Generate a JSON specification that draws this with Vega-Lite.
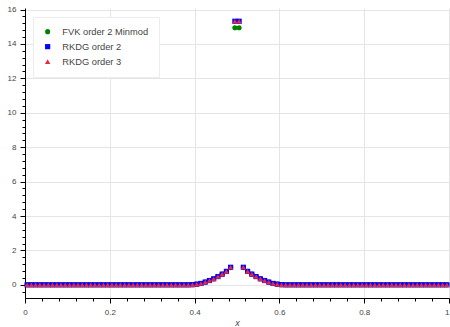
{
  "$schema": "https://vega.github.io/schema/vega-lite/v6.json",
  "width": 424,
  "height": 290,
  "autosize": "none",
  "padding": {"left": 25, "top": 8, "right": 1, "bottom": 29},
  "background": "white",
  "config": {
    "view": {"stroke": null},
    "font": "Liberation Sans"
  },
  "data": {
    "values": [
      {"s": "FVK order 2 Minmod", "x": 0.005, "y": 0}, {"s": "FVK order 2 Minmod", "x": 0.015, "y": 0}, {"s": "FVK order 2 Minmod", "x": 0.025, "y": 0}, {"s": "FVK order 2 Minmod", "x": 0.035, "y": 0}, {"s": "FVK order 2 Minmod", "x": 0.045, "y": 0}, {"s": "FVK order 2 Minmod", "x": 0.055, "y": 0}, {"s": "FVK order 2 Minmod", "x": 0.065, "y": 0}, {"s": "FVK order 2 Minmod", "x": 0.075, "y": 0}, {"s": "FVK order 2 Minmod", "x": 0.085, "y": 0}, {"s": "FVK order 2 Minmod", "x": 0.095, "y": 0},
      {"s": "FVK order 2 Minmod", "x": 0.105, "y": 0}, {"s": "FVK order 2 Minmod", "x": 0.115, "y": 0}, {"s": "FVK order 2 Minmod", "x": 0.125, "y": 0}, {"s": "FVK order 2 Minmod", "x": 0.135, "y": 0}, {"s": "FVK order 2 Minmod", "x": 0.145, "y": 0}, {"s": "FVK order 2 Minmod", "x": 0.155, "y": 0}, {"s": "FVK order 2 Minmod", "x": 0.165, "y": 0}, {"s": "FVK order 2 Minmod", "x": 0.175, "y": 0}, {"s": "FVK order 2 Minmod", "x": 0.185, "y": 0}, {"s": "FVK order 2 Minmod", "x": 0.195, "y": 0},
      {"s": "FVK order 2 Minmod", "x": 0.205, "y": 0}, {"s": "FVK order 2 Minmod", "x": 0.215, "y": 0}, {"s": "FVK order 2 Minmod", "x": 0.225, "y": 0}, {"s": "FVK order 2 Minmod", "x": 0.235, "y": 0}, {"s": "FVK order 2 Minmod", "x": 0.245, "y": 0}, {"s": "FVK order 2 Minmod", "x": 0.255, "y": 0}, {"s": "FVK order 2 Minmod", "x": 0.265, "y": 0}, {"s": "FVK order 2 Minmod", "x": 0.275, "y": 0}, {"s": "FVK order 2 Minmod", "x": 0.285, "y": 0}, {"s": "FVK order 2 Minmod", "x": 0.295, "y": 0},
      {"s": "FVK order 2 Minmod", "x": 0.305, "y": 0}, {"s": "FVK order 2 Minmod", "x": 0.315, "y": 0}, {"s": "FVK order 2 Minmod", "x": 0.325, "y": 0}, {"s": "FVK order 2 Minmod", "x": 0.335, "y": 0}, {"s": "FVK order 2 Minmod", "x": 0.345, "y": 0}, {"s": "FVK order 2 Minmod", "x": 0.355, "y": 0}, {"s": "FVK order 2 Minmod", "x": 0.365, "y": 0}, {"s": "FVK order 2 Minmod", "x": 0.375, "y": 0}, {"s": "FVK order 2 Minmod", "x": 0.385, "y": 0}, {"s": "FVK order 2 Minmod", "x": 0.395, "y": 0.01},
      {"s": "FVK order 2 Minmod", "x": 0.405, "y": 0.04}, {"s": "FVK order 2 Minmod", "x": 0.415, "y": 0.08}, {"s": "FVK order 2 Minmod", "x": 0.425, "y": 0.16}, {"s": "FVK order 2 Minmod", "x": 0.435, "y": 0.25}, {"s": "FVK order 2 Minmod", "x": 0.445, "y": 0.35}, {"s": "FVK order 2 Minmod", "x": 0.455, "y": 0.48}, {"s": "FVK order 2 Minmod", "x": 0.465, "y": 0.62}, {"s": "FVK order 2 Minmod", "x": 0.475, "y": 0.78}, {"s": "FVK order 2 Minmod", "x": 0.485, "y": 1.0}, {"s": "FVK order 2 Minmod", "x": 0.495, "y": 14.94},
      {"s": "FVK order 2 Minmod", "x": 0.505, "y": 14.94}, {"s": "FVK order 2 Minmod", "x": 0.515, "y": 1.0}, {"s": "FVK order 2 Minmod", "x": 0.525, "y": 0.78}, {"s": "FVK order 2 Minmod", "x": 0.535, "y": 0.62}, {"s": "FVK order 2 Minmod", "x": 0.545, "y": 0.48}, {"s": "FVK order 2 Minmod", "x": 0.555, "y": 0.35}, {"s": "FVK order 2 Minmod", "x": 0.565, "y": 0.25}, {"s": "FVK order 2 Minmod", "x": 0.575, "y": 0.16}, {"s": "FVK order 2 Minmod", "x": 0.585, "y": 0.08}, {"s": "FVK order 2 Minmod", "x": 0.595, "y": 0.04},
      {"s": "FVK order 2 Minmod", "x": 0.605, "y": 0.01}, {"s": "FVK order 2 Minmod", "x": 0.615, "y": 0}, {"s": "FVK order 2 Minmod", "x": 0.625, "y": 0}, {"s": "FVK order 2 Minmod", "x": 0.635, "y": 0}, {"s": "FVK order 2 Minmod", "x": 0.645, "y": 0}, {"s": "FVK order 2 Minmod", "x": 0.655, "y": 0}, {"s": "FVK order 2 Minmod", "x": 0.665, "y": 0}, {"s": "FVK order 2 Minmod", "x": 0.675, "y": 0}, {"s": "FVK order 2 Minmod", "x": 0.685, "y": 0}, {"s": "FVK order 2 Minmod", "x": 0.695, "y": 0},
      {"s": "FVK order 2 Minmod", "x": 0.705, "y": 0}, {"s": "FVK order 2 Minmod", "x": 0.715, "y": 0}, {"s": "FVK order 2 Minmod", "x": 0.725, "y": 0}, {"s": "FVK order 2 Minmod", "x": 0.735, "y": 0}, {"s": "FVK order 2 Minmod", "x": 0.745, "y": 0}, {"s": "FVK order 2 Minmod", "x": 0.755, "y": 0}, {"s": "FVK order 2 Minmod", "x": 0.765, "y": 0}, {"s": "FVK order 2 Minmod", "x": 0.775, "y": 0}, {"s": "FVK order 2 Minmod", "x": 0.785, "y": 0}, {"s": "FVK order 2 Minmod", "x": 0.795, "y": 0},
      {"s": "FVK order 2 Minmod", "x": 0.805, "y": 0}, {"s": "FVK order 2 Minmod", "x": 0.815, "y": 0}, {"s": "FVK order 2 Minmod", "x": 0.825, "y": 0}, {"s": "FVK order 2 Minmod", "x": 0.835, "y": 0}, {"s": "FVK order 2 Minmod", "x": 0.845, "y": 0}, {"s": "FVK order 2 Minmod", "x": 0.855, "y": 0}, {"s": "FVK order 2 Minmod", "x": 0.865, "y": 0}, {"s": "FVK order 2 Minmod", "x": 0.875, "y": 0}, {"s": "FVK order 2 Minmod", "x": 0.885, "y": 0}, {"s": "FVK order 2 Minmod", "x": 0.895, "y": 0},
      {"s": "FVK order 2 Minmod", "x": 0.905, "y": 0}, {"s": "FVK order 2 Minmod", "x": 0.915, "y": 0}, {"s": "FVK order 2 Minmod", "x": 0.925, "y": 0}, {"s": "FVK order 2 Minmod", "x": 0.935, "y": 0}, {"s": "FVK order 2 Minmod", "x": 0.945, "y": 0}, {"s": "FVK order 2 Minmod", "x": 0.955, "y": 0}, {"s": "FVK order 2 Minmod", "x": 0.965, "y": 0}, {"s": "FVK order 2 Minmod", "x": 0.975, "y": 0}, {"s": "FVK order 2 Minmod", "x": 0.985, "y": 0}, {"s": "FVK order 2 Minmod", "x": 0.995, "y": 0},

      {"s": "RKDG order 2", "x": 0.005, "y": 0}, {"s": "RKDG order 2", "x": 0.015, "y": 0}, {"s": "RKDG order 2", "x": 0.025, "y": 0}, {"s": "RKDG order 2", "x": 0.035, "y": 0}, {"s": "RKDG order 2", "x": 0.045, "y": 0}, {"s": "RKDG order 2", "x": 0.055, "y": 0}, {"s": "RKDG order 2", "x": 0.065, "y": 0}, {"s": "RKDG order 2", "x": 0.075, "y": 0}, {"s": "RKDG order 2", "x": 0.085, "y": 0}, {"s": "RKDG order 2", "x": 0.095, "y": 0},
      {"s": "RKDG order 2", "x": 0.105, "y": 0}, {"s": "RKDG order 2", "x": 0.115, "y": 0}, {"s": "RKDG order 2", "x": 0.125, "y": 0}, {"s": "RKDG order 2", "x": 0.135, "y": 0}, {"s": "RKDG order 2", "x": 0.145, "y": 0}, {"s": "RKDG order 2", "x": 0.155, "y": 0}, {"s": "RKDG order 2", "x": 0.165, "y": 0}, {"s": "RKDG order 2", "x": 0.175, "y": 0}, {"s": "RKDG order 2", "x": 0.185, "y": 0}, {"s": "RKDG order 2", "x": 0.195, "y": 0},
      {"s": "RKDG order 2", "x": 0.205, "y": 0}, {"s": "RKDG order 2", "x": 0.215, "y": 0}, {"s": "RKDG order 2", "x": 0.225, "y": 0}, {"s": "RKDG order 2", "x": 0.235, "y": 0}, {"s": "RKDG order 2", "x": 0.245, "y": 0}, {"s": "RKDG order 2", "x": 0.255, "y": 0}, {"s": "RKDG order 2", "x": 0.265, "y": 0}, {"s": "RKDG order 2", "x": 0.275, "y": 0}, {"s": "RKDG order 2", "x": 0.285, "y": 0}, {"s": "RKDG order 2", "x": 0.295, "y": 0},
      {"s": "RKDG order 2", "x": 0.305, "y": 0}, {"s": "RKDG order 2", "x": 0.315, "y": 0}, {"s": "RKDG order 2", "x": 0.325, "y": 0}, {"s": "RKDG order 2", "x": 0.335, "y": 0}, {"s": "RKDG order 2", "x": 0.345, "y": 0}, {"s": "RKDG order 2", "x": 0.355, "y": 0}, {"s": "RKDG order 2", "x": 0.365, "y": 0}, {"s": "RKDG order 2", "x": 0.375, "y": 0}, {"s": "RKDG order 2", "x": 0.385, "y": 0}, {"s": "RKDG order 2", "x": 0.395, "y": 0.01},
      {"s": "RKDG order 2", "x": 0.405, "y": 0.04}, {"s": "RKDG order 2", "x": 0.415, "y": 0.08}, {"s": "RKDG order 2", "x": 0.425, "y": 0.16}, {"s": "RKDG order 2", "x": 0.435, "y": 0.25}, {"s": "RKDG order 2", "x": 0.445, "y": 0.35}, {"s": "RKDG order 2", "x": 0.455, "y": 0.48}, {"s": "RKDG order 2", "x": 0.465, "y": 0.62}, {"s": "RKDG order 2", "x": 0.475, "y": 0.78}, {"s": "RKDG order 2", "x": 0.485, "y": 1.02}, {"s": "RKDG order 2", "x": 0.495, "y": 15.32},
      {"s": "RKDG order 2", "x": 0.505, "y": 15.32}, {"s": "RKDG order 2", "x": 0.515, "y": 1.02}, {"s": "RKDG order 2", "x": 0.525, "y": 0.78}, {"s": "RKDG order 2", "x": 0.535, "y": 0.62}, {"s": "RKDG order 2", "x": 0.545, "y": 0.48}, {"s": "RKDG order 2", "x": 0.555, "y": 0.35}, {"s": "RKDG order 2", "x": 0.565, "y": 0.25}, {"s": "RKDG order 2", "x": 0.575, "y": 0.16}, {"s": "RKDG order 2", "x": 0.585, "y": 0.08}, {"s": "RKDG order 2", "x": 0.595, "y": 0.04},
      {"s": "RKDG order 2", "x": 0.605, "y": 0.01}, {"s": "RKDG order 2", "x": 0.615, "y": 0}, {"s": "RKDG order 2", "x": 0.625, "y": 0}, {"s": "RKDG order 2", "x": 0.635, "y": 0}, {"s": "RKDG order 2", "x": 0.645, "y": 0}, {"s": "RKDG order 2", "x": 0.655, "y": 0}, {"s": "RKDG order 2", "x": 0.665, "y": 0}, {"s": "RKDG order 2", "x": 0.675, "y": 0}, {"s": "RKDG order 2", "x": 0.685, "y": 0}, {"s": "RKDG order 2", "x": 0.695, "y": 0},
      {"s": "RKDG order 2", "x": 0.705, "y": 0}, {"s": "RKDG order 2", "x": 0.715, "y": 0}, {"s": "RKDG order 2", "x": 0.725, "y": 0}, {"s": "RKDG order 2", "x": 0.735, "y": 0}, {"s": "RKDG order 2", "x": 0.745, "y": 0}, {"s": "RKDG order 2", "x": 0.755, "y": 0}, {"s": "RKDG order 2", "x": 0.765, "y": 0}, {"s": "RKDG order 2", "x": 0.775, "y": 0}, {"s": "RKDG order 2", "x": 0.785, "y": 0}, {"s": "RKDG order 2", "x": 0.795, "y": 0},
      {"s": "RKDG order 2", "x": 0.805, "y": 0}, {"s": "RKDG order 2", "x": 0.815, "y": 0}, {"s": "RKDG order 2", "x": 0.825, "y": 0}, {"s": "RKDG order 2", "x": 0.835, "y": 0}, {"s": "RKDG order 2", "x": 0.845, "y": 0}, {"s": "RKDG order 2", "x": 0.855, "y": 0}, {"s": "RKDG order 2", "x": 0.865, "y": 0}, {"s": "RKDG order 2", "x": 0.875, "y": 0}, {"s": "RKDG order 2", "x": 0.885, "y": 0}, {"s": "RKDG order 2", "x": 0.895, "y": 0},
      {"s": "RKDG order 2", "x": 0.905, "y": 0}, {"s": "RKDG order 2", "x": 0.915, "y": 0}, {"s": "RKDG order 2", "x": 0.925, "y": 0}, {"s": "RKDG order 2", "x": 0.935, "y": 0}, {"s": "RKDG order 2", "x": 0.945, "y": 0}, {"s": "RKDG order 2", "x": 0.955, "y": 0}, {"s": "RKDG order 2", "x": 0.965, "y": 0}, {"s": "RKDG order 2", "x": 0.975, "y": 0}, {"s": "RKDG order 2", "x": 0.985, "y": 0}, {"s": "RKDG order 2", "x": 0.995, "y": 0},

      {"s": "RKDG order 3", "x": 0.005, "y": 0}, {"s": "RKDG order 3", "x": 0.015, "y": 0}, {"s": "RKDG order 3", "x": 0.025, "y": 0}, {"s": "RKDG order 3", "x": 0.035, "y": 0}, {"s": "RKDG order 3", "x": 0.045, "y": 0}, {"s": "RKDG order 3", "x": 0.055, "y": 0}, {"s": "RKDG order 3", "x": 0.065, "y": 0}, {"s": "RKDG order 3", "x": 0.075, "y": 0}, {"s": "RKDG order 3", "x": 0.085, "y": 0}, {"s": "RKDG order 3", "x": 0.095, "y": 0},
      {"s": "RKDG order 3", "x": 0.105, "y": 0}, {"s": "RKDG order 3", "x": 0.115, "y": 0}, {"s": "RKDG order 3", "x": 0.125, "y": 0}, {"s": "RKDG order 3", "x": 0.135, "y": 0}, {"s": "RKDG order 3", "x": 0.145, "y": 0}, {"s": "RKDG order 3", "x": 0.155, "y": 0}, {"s": "RKDG order 3", "x": 0.165, "y": 0}, {"s": "RKDG order 3", "x": 0.175, "y": 0}, {"s": "RKDG order 3", "x": 0.185, "y": 0}, {"s": "RKDG order 3", "x": 0.195, "y": 0},
      {"s": "RKDG order 3", "x": 0.205, "y": 0}, {"s": "RKDG order 3", "x": 0.215, "y": 0}, {"s": "RKDG order 3", "x": 0.225, "y": 0}, {"s": "RKDG order 3", "x": 0.235, "y": 0}, {"s": "RKDG order 3", "x": 0.245, "y": 0}, {"s": "RKDG order 3", "x": 0.255, "y": 0}, {"s": "RKDG order 3", "x": 0.265, "y": 0}, {"s": "RKDG order 3", "x": 0.275, "y": 0}, {"s": "RKDG order 3", "x": 0.285, "y": 0}, {"s": "RKDG order 3", "x": 0.295, "y": 0},
      {"s": "RKDG order 3", "x": 0.305, "y": 0}, {"s": "RKDG order 3", "x": 0.315, "y": 0}, {"s": "RKDG order 3", "x": 0.325, "y": 0}, {"s": "RKDG order 3", "x": 0.335, "y": 0}, {"s": "RKDG order 3", "x": 0.345, "y": 0}, {"s": "RKDG order 3", "x": 0.355, "y": 0}, {"s": "RKDG order 3", "x": 0.365, "y": 0}, {"s": "RKDG order 3", "x": 0.375, "y": 0}, {"s": "RKDG order 3", "x": 0.385, "y": 0}, {"s": "RKDG order 3", "x": 0.395, "y": 0.01},
      {"s": "RKDG order 3", "x": 0.405, "y": 0.04}, {"s": "RKDG order 3", "x": 0.415, "y": 0.08}, {"s": "RKDG order 3", "x": 0.425, "y": 0.16}, {"s": "RKDG order 3", "x": 0.435, "y": 0.25}, {"s": "RKDG order 3", "x": 0.445, "y": 0.35}, {"s": "RKDG order 3", "x": 0.455, "y": 0.48}, {"s": "RKDG order 3", "x": 0.465, "y": 0.62}, {"s": "RKDG order 3", "x": 0.475, "y": 0.78}, {"s": "RKDG order 3", "x": 0.485, "y": 1.02}, {"s": "RKDG order 3", "x": 0.495, "y": 15.32},
      {"s": "RKDG order 3", "x": 0.505, "y": 15.32}, {"s": "RKDG order 3", "x": 0.515, "y": 1.02}, {"s": "RKDG order 3", "x": 0.525, "y": 0.78}, {"s": "RKDG order 3", "x": 0.535, "y": 0.62}, {"s": "RKDG order 3", "x": 0.545, "y": 0.48}, {"s": "RKDG order 3", "x": 0.555, "y": 0.35}, {"s": "RKDG order 3", "x": 0.565, "y": 0.25}, {"s": "RKDG order 3", "x": 0.575, "y": 0.16}, {"s": "RKDG order 3", "x": 0.585, "y": 0.08}, {"s": "RKDG order 3", "x": 0.595, "y": 0.04},
      {"s": "RKDG order 3", "x": 0.605, "y": 0.01}, {"s": "RKDG order 3", "x": 0.615, "y": 0}, {"s": "RKDG order 3", "x": 0.625, "y": 0}, {"s": "RKDG order 3", "x": 0.635, "y": 0}, {"s": "RKDG order 3", "x": 0.645, "y": 0}, {"s": "RKDG order 3", "x": 0.655, "y": 0}, {"s": "RKDG order 3", "x": 0.665, "y": 0}, {"s": "RKDG order 3", "x": 0.675, "y": 0}, {"s": "RKDG order 3", "x": 0.685, "y": 0}, {"s": "RKDG order 3", "x": 0.695, "y": 0},
      {"s": "RKDG order 3", "x": 0.705, "y": 0}, {"s": "RKDG order 3", "x": 0.715, "y": 0}, {"s": "RKDG order 3", "x": 0.725, "y": 0}, {"s": "RKDG order 3", "x": 0.735, "y": 0}, {"s": "RKDG order 3", "x": 0.745, "y": 0}, {"s": "RKDG order 3", "x": 0.755, "y": 0}, {"s": "RKDG order 3", "x": 0.765, "y": 0}, {"s": "RKDG order 3", "x": 0.775, "y": 0}, {"s": "RKDG order 3", "x": 0.785, "y": 0}, {"s": "RKDG order 3", "x": 0.795, "y": 0},
      {"s": "RKDG order 3", "x": 0.805, "y": 0}, {"s": "RKDG order 3", "x": 0.815, "y": 0}, {"s": "RKDG order 3", "x": 0.825, "y": 0}, {"s": "RKDG order 3", "x": 0.835, "y": 0}, {"s": "RKDG order 3", "x": 0.845, "y": 0}, {"s": "RKDG order 3", "x": 0.855, "y": 0}, {"s": "RKDG order 3", "x": 0.865, "y": 0}, {"s": "RKDG order 3", "x": 0.875, "y": 0}, {"s": "RKDG order 3", "x": 0.885, "y": 0}, {"s": "RKDG order 3", "x": 0.895, "y": 0},
      {"s": "RKDG order 3", "x": 0.905, "y": 0}, {"s": "RKDG order 3", "x": 0.915, "y": 0}, {"s": "RKDG order 3", "x": 0.925, "y": 0}, {"s": "RKDG order 3", "x": 0.935, "y": 0}, {"s": "RKDG order 3", "x": 0.945, "y": 0}, {"s": "RKDG order 3", "x": 0.955, "y": 0}, {"s": "RKDG order 3", "x": 0.965, "y": 0}, {"s": "RKDG order 3", "x": 0.975, "y": 0}, {"s": "RKDG order 3", "x": 0.985, "y": 0}, {"s": "RKDG order 3", "x": 0.995, "y": 0}
    ]
  },
  "mark": {"type": "point", "filled": true, "opacity": 1, "strokeWidth": 0},
  "encoding": {
    "x": {
      "field": "x", "type": "quantitative",
      "scale": {"domain": [0, 1], "nice": false, "zero": false},
      "axis": {
        "title": "x",
        "titleFontStyle": "italic", "titleFontWeight": "normal", "titleColor": "#444444", "titleFontSize": 9, "titlePadding": 2,
        "values": [0, 0.04, 0.08, 0.12, 0.16, 0.2, 0.24, 0.28, 0.32, 0.36, 0.4, 0.44, 0.48, 0.52, 0.56, 0.6, 0.64, 0.68, 0.72, 0.76, 0.8, 0.84, 0.88, 0.92, 0.96, 1],
        "labelExpr": "abs(datum.value*5 - round(datum.value*5)) < 1e-6 ? format(datum.value, '~g') : ''",
        "labelAlign": {"condition": {"test": "datum.value >= 0.999", "value": "right"}, "value": "center"},
        "labelColor": "#444444", "labelFontSize": 8, "labelPadding": 5, "labelFlush": false, "labelOverlap": false,
        "domainColor": "#000000", "domainWidth": 1,
        "tickColor": "#000000",
        "tickSize": {"condition": {"test": "abs(datum.value*5 - round(datum.value*5)) < 1e-6", "value": 5}, "value": 3},
        "grid": true, "gridColor": "#e5e5e5",
        "gridOpacity": {"condition": {"test": "abs(datum.value*5 - round(datum.value*5)) < 1e-6 && datum.value > 0", "value": 1}, "value": 0}
      }
    },
    "y": {
      "field": "y", "type": "quantitative",
      "scale": {"domain": [-0.766, 16.09], "nice": false, "zero": false},
      "axis": {
        "title": null,
        "values": [-0.4, 0, 0.4, 0.8, 1.2, 1.6, 2, 2.4, 2.8, 3.2, 3.6, 4, 4.4, 4.8, 5.2, 5.6, 6, 6.4, 6.8, 7.2, 7.6, 8, 8.4, 8.8, 9.2, 9.6, 10, 10.4, 10.8, 11.2, 11.6, 12, 12.4, 12.8, 13.2, 13.6, 14, 14.4, 14.8, 15.2, 15.6, 16],
        "labelExpr": "abs(datum.value/2 - round(datum.value/2)) < 1e-6 ? format(datum.value, '~g') : ''",
        "labelColor": "#444444", "labelFontSize": 8, "labelPadding": 4, "labelFlush": false, "labelOverlap": false,
        "domainColor": "#000000", "domainWidth": 1,
        "tickColor": "#000000",
        "tickSize": {"condition": {"test": "abs(datum.value/2 - round(datum.value/2)) < 1e-6", "value": 5}, "value": 3},
        "grid": true, "gridColor": "#e5e5e5",
        "gridOpacity": {"condition": {"test": "abs(datum.value/2 - round(datum.value/2)) < 1e-6", "value": 1}, "value": 0}
      }
    },
    "color": {
      "field": "s", "type": "nominal",
      "scale": {"domain": ["FVK order 2 Minmod", "RKDG order 2", "RKDG order 3"], "range": ["#008000", "#0000ff", "#e8283c"]},
      "legend": {
        "title": null, "orient": "none", "legendX": 8, "legendY": 9,
        "fillColor": "white", "strokeColor": "#ececec", "padding": 10,
        "labelFontSize": 9.3, "labelColor": "#444444", "rowPadding": 5, "labelOffset": 10,
        "symbolStrokeWidth": 0
      }
    },
    "shape": {
      "field": "s", "type": "nominal",
      "scale": {"domain": ["FVK order 2 Minmod", "RKDG order 2", "RKDG order 3"], "range": ["circle", "square", "triangle-up"]}
    },
    "size": {
      "field": "s", "type": "nominal",
      "scale": {"domain": ["FVK order 2 Minmod", "RKDG order 2", "RKDG order 3"], "range": [26, 28, 8]}
    }
  }
}
